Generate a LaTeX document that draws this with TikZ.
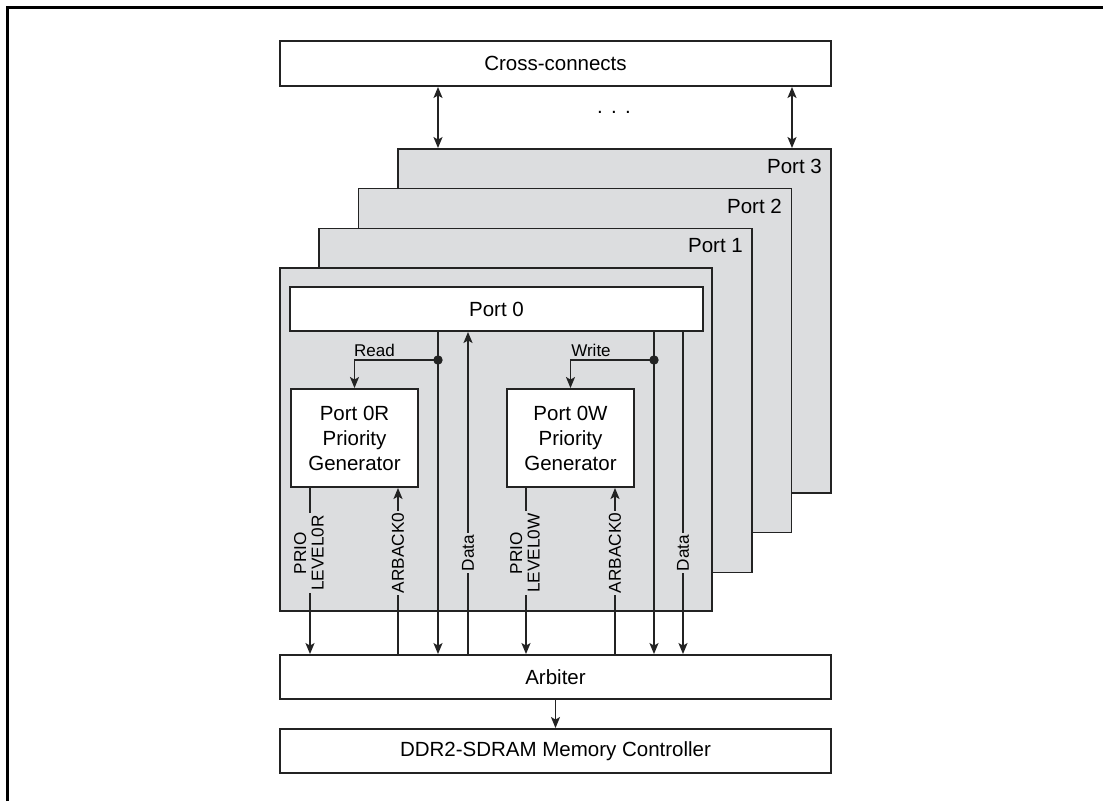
\documentclass[tikz,border=0pt]{standalone}
\usepackage{fontspec}
\setmainfont{Liberation Sans}
\usetikzlibrary{arrows.meta}
\definecolor{portgray}{RGB}{220,221,223}
\definecolor{ln}{RGB}{35,35,35}
\tikzset{
  box/.style={draw=ln, line width=1.9pt, fill=white, inner sep=0pt, align=center,
    font=\fontsize{20.5}{25}\selectfont},
  portbox/.style={draw=ln, line width=1.9pt, fill=portgray, minimum width=433pt,
    minimum height=344pt, inner sep=0pt},
  plab/.style={font=\fontsize{20.5}{25}\selectfont, anchor=east, inner sep=0pt},
  conn/.style={draw=ln, line width=1.7pt},
  tip/.tip={Stealth[length=11pt,width=9pt,inset=2.5pt]},
  arr/.style={conn, -tip},
  dbl/.style={conn, tip-tip},
  lbl/.style={font=\fontsize{17.2}{17.5}\selectfont, fill=portgray, rotate=90,
    align=center, inner sep=2pt},
  small/.style={font=\fontsize{17}{19}\selectfont, inner sep=0pt},
}
\begin{document}
\begin{tikzpicture}[x=1pt,y=-1pt]
\useasboundingbox (0,0) rectangle (1103,801);
% frame
\draw[line width=2.6pt, black] (7.5,801) -- (7.5,7.5) -- (1103,7.5);

% x positions
\coordinate (xa) at (438,0);
\coordinate (xb) at (792,0);
\coordinate (xD1) at (468,0);
\coordinate (xW) at (654,0);
\coordinate (xD2) at (683,0);
\coordinate (xP0) at (310,0);
\coordinate (xA0) at (398,0);
\coordinate (xP1) at (526,0);
\coordinate (xA1) at (615,0);

% top box
\node[box, minimum width=551pt, minimum height=45pt] (cc) at (555.5,63.5) {Cross-connects};
\node[font=\fontsize{20.5}{25}\selectfont, anchor=base, inner sep=0pt] (dots) at (614,113.5) {.\hspace{8.3pt}.\hspace{8.3pt}.};

% stacked ports
\node[portbox] (p3) at (614.5,321) {};
\node[plab] (p3l) at (822,166) {Port 3};
\node[portbox] (p2) at (575,360.5) {};
\node[plab] (p2l) at (782,206) {Port 2};
\node[portbox] (p1) at (535.5,400.5) {};
\node[plab] (p1l) at (743,246) {Port 1};
\node[portbox, minimum width=432pt, minimum height=343pt] (p0) at (496,439.5) {};

% cross-connect arrows
\draw[dbl] (cc.south -| xa) -- (p3.north -| xa);
\draw[dbl] (cc.south -| xb) -- (p3.north -| xb);

% inner boxes
\node[box, minimum width=413pt, minimum height=44pt] (port0) at (496.5,309) {Port 0};
\node[box, minimum width=127pt, minimum height=98pt] (g0r) at (354.5,438) {Port 0R\\Priority\\Generator};
\node[box, minimum width=127pt, minimum height=98pt] (g0w) at (570.5,438) {Port 0W\\Priority\\Generator};

% bottom boxes
\node[box, minimum width=551pt, minimum height=44pt] (arb) at (555.5,677) {Arbiter};
\node[box, minimum width=551pt, minimum height=44pt] (ddr) at (555.5,751) {DDR2-SDRAM Memory Controller};

% read / write branches
\coordinate (dotr) at (438,360);
\coordinate (dotw) at (654,360);
\draw[arr] (port0.south -| xa) -- (arb.north -| xa);
\draw[arr] (port0.south -| xW) -- (arb.north -| xW);
\fill[ln] (dotr) circle (4.7pt);
\fill[ln] (dotw) circle (4.7pt);
\draw[arr] (dotr) -| (g0r.north);
\draw[arr] (dotw) -| (g0w.north);
\node[small] (readl) at (374.5,350.5) {Read};
\node[small] (writel) at (591,350.5) {Write};

% data lines
\draw[arr] (arb.north -| xD1) -- (port0.south -| xD1);
\draw[arr] (port0.south -| xD2) -- (arb.north -| xD2);

% priority / ack lines
\draw[arr] (g0r.south -| xP0) -- (arb.north -| xP0);
\draw[arr] (arb.north -| xA0) -- (g0r.south -| xA0);
\draw[arr] (g0w.south -| xP1) -- (arb.north -| xP1);
\draw[arr] (arb.north -| xA1) -- (g0w.south -| xA1);

% rotated labels
\node[lbl] (lp0) at (309,553) {PRIO\\LEVEL0R};
\node[lbl] (la0) at (398,553) {ARBACK0};
\node[lbl] (ld1) at (468,553) {Data};
\node[lbl] (lp1) at (525,553) {PRIO\\LEVEL0W};
\node[lbl] (la1) at (615,553) {ARBACK0};
\node[lbl] (ld2) at (683,553) {Data};

% arbiter to memory controller
\draw[arr] (arb.south) -- (ddr.north);
\end{tikzpicture}
\end{document}
